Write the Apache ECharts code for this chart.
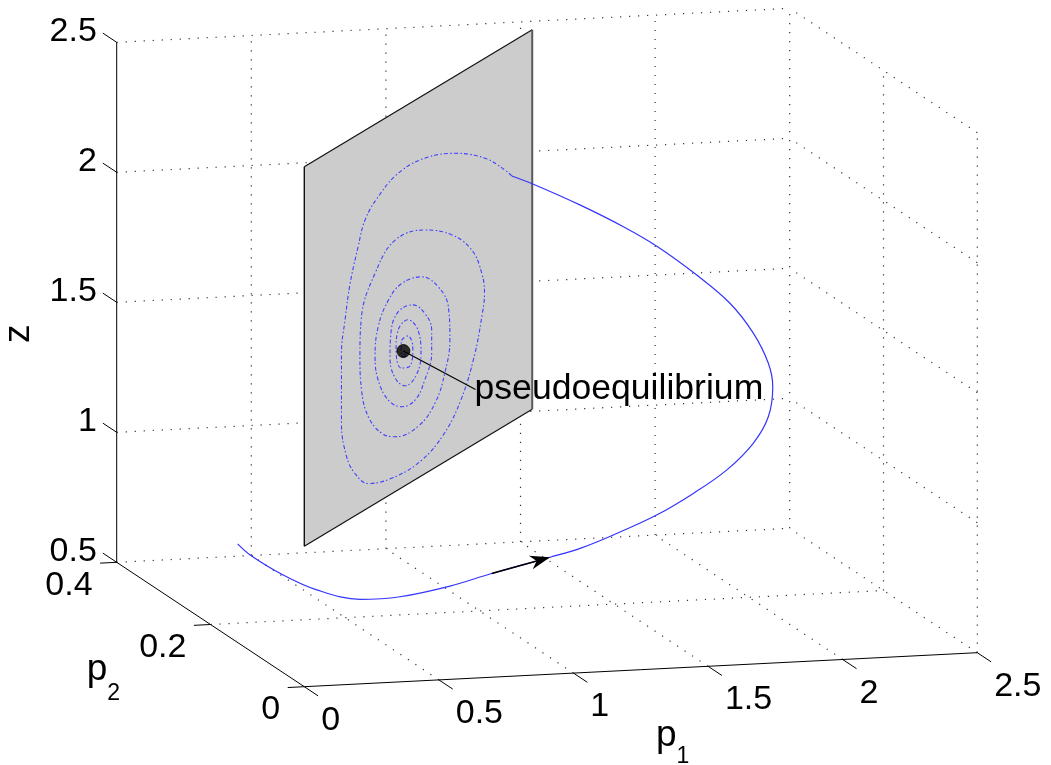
<!DOCTYPE html>
<html>
<head>
<meta charset="utf-8">
<script src="https://cdn.jsdelivr.net/npm/echarts@6/dist/echarts.min.js"></script>
<style>
  html, body { margin: 0; padding: 0; background: #ffffff; }
  #chart { width: 1051px; height: 765px; }
</style>
</head>
<body>
<div id="chart"></div>
<script>
// ---- axis limits and ticks ----
const p1Range = [0, 2.5];
const p2Range = [0, 0.4];
const zRange = [0.5, 2.5];
const p1Ticks = [0, 0.5, 1, 1.5, 2, 2.5];
const p2Ticks = [0, 0.2, 0.4];
const zTicks = [0.5, 1, 1.5, 2, 2.5];
const p1TickLabels = ['0', '0.5', '1', '1.5', '2', '2.5'];
const p2TickLabels = ['0', '0.2', '0.4'];
const zTickLabels = ['0.5', '1', '1.5', '2', '2.5'];

// ---- trajectory off the switching plane (start -> arrival on the plane) ----
const orbitP1 = [0.275, 0.304, 0.392, 0.482, 0.590, 0.704, 0.855, 0.975, 1.157, 1.251, 1.357, 1.483, 1.602,
                 1.708, 1.807, 1.863, 1.897, 1.898, 1.877, 1.825, 1.754, 1.658, 1.586, 1.494, 1.391, 1.365];
const orbitP2 = [0.30, 0.29, 0.27, 0.25, 0.22, 0.20, 0.18, 0.16, 0.14, 0.13, 0.12, 0.10, 0.09,
                 0.08, 0.08, 0.08, 0.09, 0.10, 0.12, 0.14, 0.17, 0.20, 0.23, 0.27, 0.31, 0.341];
const orbitZ  = [0.676, 0.644, 0.586, 0.548, 0.542, 0.570, 0.627, 0.693, 0.770, 0.811, 0.869, 0.963, 1.052,
                 1.148, 1.246, 1.345, 1.447, 1.525, 1.618, 1.712, 1.788, 1.868, 1.911, 1.952, 1.989, 1.985];

// ---- sliding motion on the plane, spiralling into the pseudoequilibrium ----
const slideP1 = [1.365, 1.321, 1.189, 0.992, 0.794, 0.619, 0.487, 0.400, 0.355, 0.301, 0.268, 0.246, 0.246,
                 0.246, 0.279, 0.334, 0.421, 0.577, 0.762, 0.913, 1.031, 1.117, 1.170, 1.185, 1.168, 1.102,
                 0.970, 0.794, 0.597, 0.465, 0.378, 0.367, 0.378, 0.421, 0.509, 0.597, 0.750, 0.860, 0.926,
                 0.959, 0.948, 0.882, 0.773, 0.641, 0.553, 0.487, 0.465, 0.487, 0.553, 0.641, 0.729, 0.794,
                 0.839, 0.839, 0.794, 0.715, 0.617, 0.571, 0.564, 0.597, 0.663, 0.735, 0.768, 0.748, 0.683,
                 0.617, 0.604, 0.637, 0.696, 0.715, 0.683, 0.637, 0.637, 0.670, 0.652];
const slideP2 = [0.341, 0.330, 0.297, 0.248, 0.199, 0.155, 0.122, 0.100, 0.089, 0.075, 0.067, 0.062, 0.062,
                 0.062, 0.070, 0.084, 0.105, 0.144, 0.191, 0.228, 0.258, 0.279, 0.293, 0.296, 0.292, 0.276,
                 0.243, 0.199, 0.149, 0.116, 0.095, 0.092, 0.095, 0.105, 0.127, 0.149, 0.188, 0.215, 0.232,
                 0.240, 0.237, 0.221, 0.193, 0.160, 0.138, 0.122, 0.116, 0.122, 0.138, 0.160, 0.182, 0.199,
                 0.210, 0.210, 0.199, 0.179, 0.154, 0.143, 0.141, 0.149, 0.166, 0.184, 0.192, 0.187, 0.171,
                 0.154, 0.151, 0.159, 0.174, 0.179, 0.171, 0.159, 0.159, 0.168, 0.163];
const slideZ  = [1.985, 2.023, 2.115, 2.203, 2.253, 2.257, 2.213, 2.155, 2.067, 1.946, 1.816, 1.696, 1.555,
                 1.427, 1.287, 1.203, 1.134, 1.100, 1.097, 1.147, 1.240, 1.377, 1.512, 1.597, 1.680, 1.793,
                 1.897, 1.977, 2.008, 1.927, 1.790, 1.640, 1.508, 1.390, 1.296, 1.252, 1.237, 1.288, 1.380,
                 1.497, 1.628, 1.728, 1.805, 1.826, 1.793, 1.713, 1.606, 1.508, 1.408, 1.352, 1.347, 1.400,
                 1.488, 1.577, 1.657, 1.717, 1.725, 1.660, 1.566, 1.478, 1.424, 1.437, 1.510, 1.609, 1.671,
                 1.655, 1.583, 1.502, 1.489, 1.552, 1.609, 1.602, 1.548, 1.533, 1.562];

// ---- pseudoequilibrium and its annotation ----
const pseudoEq = [0.652, 0.163, 1.562];
const pseudoLabel = 'pseudoequilibrium';
const pseudoLabelAt = [0.92, 0.163, 1.40];

// ---- switching plane patch (vertical plane through two ground points) ----
const planeP1 = [0, 1.5];
const planeP2 = [0, 0.375];
const planeZ = [1.04, 2.5];

// ---- direction arrow along the orbit ----
const arrowFrom = [0.975, 0.16, 0.693];
const arrowTo = [1.157, 0.14, 0.770];

// ---- camera: screen position of the box corner (p1 min, p2 min, z min) and of its three edges ----
const view = {
  origin: [304.3, 686.7],
  p1Edge: [673, -34],
  p2Edge: [-187.6, -124.4],
  zEdge: [0, -520]
};
const FONT = '"Liberation Sans", Arial, Helvetica, sans-serif';
const TICK_LEN = 16.6;

function project(p1, p2, z) {
  const u = (p1 - p1Range[0]) / (p1Range[1] - p1Range[0]);
  const v = (p2 - p2Range[0]) / (p2Range[1] - p2Range[0]);
  const w = (z - zRange[0]) / (zRange[1] - zRange[0]);
  return [
    view.origin[0] + u * view.p1Edge[0] + v * view.p2Edge[0] + w * view.zEdge[0],
    view.origin[1] + u * view.p1Edge[1] + v * view.p2Edge[1] + w * view.zEdge[1]
  ];
}
function unit(vec) { const l = Math.hypot(vec[0], vec[1]); return [vec[0] / l, vec[1] / l]; }

const [p1Min, p1Max] = p1Range, [p2Min, p2Max] = p2Range, [zMin, zMax] = zRange;

// dotted grid on the back wall, the right wall and the floor
const gridSegs = [];
function gridSeg(a, b) { const A = project(...a), B = project(...b); gridSegs.push([A[0], A[1], B[0], B[1]]); }
zTicks.forEach(z => gridSeg([p1Min, p2Max, z], [p1Max, p2Max, z]));
p1Ticks.filter(p => p > p1Min).forEach(p => gridSeg([p, p2Max, zMin], [p, p2Max, zMax]));
zTicks.filter(z => z > zMin).forEach(z => gridSeg([p1Max, p2Min, z], [p1Max, p2Max, z]));
p2Ticks.filter(p => p < p2Max).forEach(p => gridSeg([p1Max, p, zMin], [p1Max, p, zMax]));
p1Ticks.filter(p => p > p1Min).forEach(p => gridSeg([p, p2Min, zMin], [p, p2Max, zMin]));
p2Ticks.filter(p => p > p2Min && p < p2Max).forEach(p => gridSeg([p1Min, p, zMin], [p1Max, p, zMin]));

// axis lines and tick marks
const axisSegs = [];
const textItems = [];
function axisSeg(A, B) { axisSegs.push([A[0], A[1], B[0], B[1]]); }
axisSeg(project(p1Min, p2Max, zMin), project(p1Min, p2Max, zMax));
axisSeg(project(p1Min, p2Max, zMin), project(p1Min, p2Min, zMin));
axisSeg(project(p1Min, p2Min, zMin), project(p1Max, p2Min, zMin));

const dirZTick = unit(view.p2Edge);                          // z ticks point towards +p2
const dirP2Tick = unit([-view.p1Edge[0], -view.p1Edge[1]]);  // p2 ticks point towards -p1
const dirP1Tick = unit([-view.p2Edge[0], -view.p2Edge[1]]);  // p1 ticks point towards -p2

zTicks.forEach((z, i) => {
  const A = project(p1Min, p2Max, z);
  const B = [A[0] + TICK_LEN * dirZTick[0], A[1] + TICK_LEN * dirZTick[1]];
  axisSeg(A, B);
  textItems.push({ at: B, dx: -6, dy: -1.5, text: zTickLabels[i], size: 34, align: 'right', vAlign: 'middle' });
});
p2Ticks.forEach((p, i) => {
  const A = project(p1Min, p, zMin);
  const B = [A[0] + TICK_LEN * dirP2Tick[0], A[1] + TICK_LEN * dirP2Tick[1]];
  axisSeg(A, B);
  textItems.push({ at: B, dx: -7.5, dy: 22, text: p2TickLabels[i], size: 34, align: 'right', vAlign: 'middle' });
});
p1Ticks.forEach((p, i) => {
  const A = project(p, p2Min, zMin);
  const B = [A[0] + TICK_LEN * dirP1Tick[0], A[1] + TICK_LEN * dirP1Tick[1]];
  axisSeg(A, B);
  textItems.push({ at: B, dx: 3, dy: 24.5, text: p1TickLabels[i], size: 34, align: 'left', vAlign: 'middle' });
});

// axis titles
const p1Mid = project((p1Min + p1Max) / 2, p2Min, zMin);
textItems.push({ at: p1Mid, dx: 15.2, dy: 66, text: 'p', size: 37, align: 'left', vAlign: 'middle' });
textItems.push({ at: p1Mid, dx: 35.8, dy: 87, text: '1', size: 23, align: 'left', vAlign: 'middle' });
const p2Mid = project(p1Min, (p2Min + p2Max) / 2, zMin);
textItems.push({ at: p2Mid, dx: -123.8, dy: 45.7, text: 'p', size: 37, align: 'left', vAlign: 'middle' });
textItems.push({ at: p2Mid, dx: -103.2, dy: 69.2, text: '2', size: 23, align: 'left', vAlign: 'middle' });
const zMid = project(p1Min, p2Max, (zMin + zMax) / 2);
textItems.push({ at: zMid, dx: -98.1, dy: 31.4, text: 'z', size: 37, align: 'center', vAlign: 'middle', rot: Math.PI / 2 });

// pseudoequilibrium label
const labelPos = project(...pseudoLabelAt);
textItems.push({ at: labelPos, dx: -1, dy: 0, text: pseudoLabel, size: 35.6, align: 'left', vAlign: 'middle' });

// projected marks
const orbitPts = orbitP1.map((p, i) => project(p, orbitP2[i], orbitZ[i]));
const slidePts = slideP1.map((p, i) => project(p, slideP2[i], slideZ[i]));
const eqPt = project(...pseudoEq);
const planeCorners = [
  project(planeP1[0], planeP2[0], planeZ[0]),
  project(planeP1[1], planeP2[1], planeZ[0]),
  project(planeP1[1], planeP2[1], planeZ[1]),
  project(planeP1[0], planeP2[0], planeZ[1])
];
const arrowA = project(...arrowFrom), arrowB = project(...arrowTo);

function segSeries(segs, style, z) {
  return {
    type: 'custom', coordinateSystem: 'cartesian2d', silent: true, z: z,
    data: segs, encode: { x: [0, 2], y: [1, 3] },
    renderItem: (params, api) => {
      const a = api.coord([api.value(0), api.value(1)]);
      const b = api.coord([api.value(2), api.value(3)]);
      return { type: 'line', shape: { x1: a[0], y1: a[1], x2: b[0], y2: b[1] }, style: style };
    }
  };
}

const chart = echarts.init(document.getElementById('chart'), null, { renderer: 'canvas' });
chart.setOption({
  animation: false,
  backgroundColor: '#ffffff',
  grid: { left: 0, right: 0, top: 0, bottom: 0 },
  xAxis: { type: 'value', min: 0, max: 1051, show: false },
  yAxis: { type: 'value', min: 0, max: 765, inverse: true, show: false },
  series: [
    segSeries(gridSegs, { stroke: '#333333', lineWidth: 1.2, lineDash: [1.2, 7.8] }, 1),
    segSeries(axisSegs, { stroke: '#000000', lineWidth: 1 }, 2),
    {
      type: 'custom', coordinateSystem: 'cartesian2d', silent: true, z: 3,
      data: [[planeCorners[0][0], planeCorners[0][1]]],
      renderItem: (params, api) => {
        const c = planeCorners.map(p => api.coord(p));
        const edge = (a, b, stroke, w) => ({ type: 'line', shape: { x1: a[0], y1: a[1], x2: b[0], y2: b[1] }, style: { stroke: stroke, lineWidth: w } });
        return {
          type: 'group', children: [
            { type: 'polygon', shape: { points: c }, style: { fill: '#cccccc' } },
            edge(c[0], c[1], '#111111', 1.2),
            edge(c[2], c[3], '#111111', 1.2),
            edge(c[3], c[0], '#111111', 1.4),
            edge(c[1], c[2], '#5a5a5a', 2)
          ]
        };
      }
    },
    {
      type: 'line', z: 4, data: slidePts, showSymbol: false, smooth: 0.4, silent: true,
      lineStyle: { color: '#4040ff', width: 1.1, type: [4, 2, 1.5, 2.5] }
    },
    {
      type: 'line', z: 5, data: orbitPts, showSymbol: false, smooth: 0.35, silent: true,
      lineStyle: { color: '#3434ff', width: 1.2 }
    },
    {
      type: 'custom', coordinateSystem: 'cartesian2d', silent: true, z: 6,
      data: [[arrowA[0], arrowA[1], arrowB[0], arrowB[1]]],
      renderItem: (params, api) => {
        const a = api.coord([api.value(0), api.value(1)]);
        const b = api.coord([api.value(2), api.value(3)]);
        const d = unit([b[0] - a[0], b[1] - a[1]]);
        const n = [-d[1], d[0]];
        const L = 20, W = 7, N = 14;
        const back = [b[0] - L * d[0], b[1] - L * d[1]];
        const notch = [b[0] - N * d[0], b[1] - N * d[1]];
        return {
          type: 'group', children: [
            { type: 'line', shape: { x1: a[0], y1: a[1], x2: notch[0], y2: notch[1] }, style: { stroke: '#000', lineWidth: 1.4 } },
            { type: 'polygon', shape: { points: [b, [back[0] + W * n[0], back[1] + W * n[1]], notch, [back[0] - W * n[0], back[1] - W * n[1]]] }, style: { fill: '#000' } }
          ]
        };
      }
    },
    {
      type: 'line', z: 7, data: [eqPt, labelPos], showSymbol: false, silent: true,
      lineStyle: { color: '#000', width: 1.2 }
    },
    {
      type: 'scatter', z: 8, data: [eqPt], symbol: 'circle', symbolSize: 13, silent: true,
      itemStyle: { color: '#000', borderColor: '#000' }
    },
    {
      type: 'custom', coordinateSystem: 'cartesian2d', silent: true, z: 9,
      data: textItems.map(t => [t.at[0], t.at[1]]),
      renderItem: (params, api) => {
        const t = textItems[params.dataIndex];
        const c = api.coord([api.value(0), api.value(1)]);
        return {
          type: 'text', x: c[0] + t.dx, y: c[1] + t.dy, rotation: t.rot || 0,
          style: { text: t.text, fill: '#000', font: t.size + 'px ' + FONT, align: t.align, verticalAlign: t.vAlign }
        };
      }
    }
  ]
});
</script>
</body>
</html>
